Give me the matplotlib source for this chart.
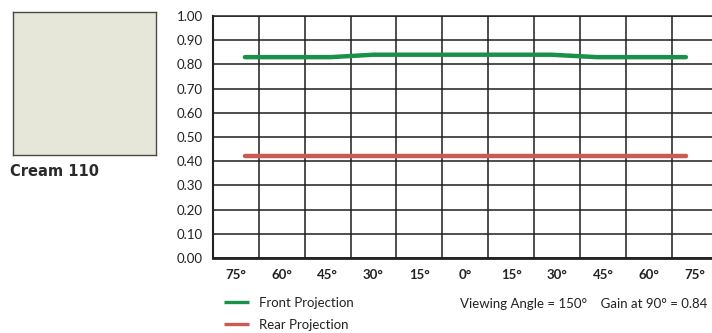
import numpy as np
import matplotlib
matplotlib.use("Agg")
import matplotlib.pyplot as plt

plt.rcParams['font.family'] = ['Lato', 'DejaVu Sans']

# data
angle_labels = ['75°', '60°', '45°', '30°', '15°', '0°', '15°', '30°', '45°', '60°', '75°']
angle_centers = np.arange(-75, 76, 15)
front_x = [-72, -44, -30, 0, 28, 43, 72]
front_y = [0.83, 0.83, 0.84, 0.84, 0.84, 0.83, 0.83]
rear_x = [-72, 0, 72]
rear_y = [0.42, 0.42, 0.42]
sample_name = 'Cream 110'
sample_color = '#e6e7d8'
info_text = 'Viewing Angle = 150°    Gain at 90° = 0.84'

W, H = 712, 333
fig = plt.figure(figsize=(W / 100, H / 100), dpi=100)

# sample swatch
sw = fig.add_axes([13 / W, 1 - 155 / H, 143 / W, 143 / H])
sw.set_facecolor(sample_color)
sw.set_xticks([])
sw.set_yticks([])
for s in sw.spines.values():
    s.set_color('#4a4a44')
    s.set_linewidth(1.0)
fig.text(10 / W, 1 - 172 / H, sample_name, fontsize=10.5, fontweight='bold',
         family='DejaVu Sans', color='#2a2a2a', ha='left', va='center')

# main chart
ax = fig.add_axes([212.7 / W, 1 - 258 / H, (718 - 212.7) / W, (258 - 16) / H])
ax.set_xlim(-82.5, 82.5)
ax.set_ylim(0, 1)

ax.set_xticks(np.arange(-67.5, 68, 15))
ax.set_xticklabels([])
ax.set_xticks(angle_centers, minor=True)
ax.set_xticklabels(angle_labels, minor=True, fontsize=9.5, fontweight='bold', color='#222222')
ax.set_yticks(np.arange(0, 1.01, 0.1))
ax.set_yticklabels([f'{v:.2f}' for v in np.arange(0, 1.01, 0.1)], fontsize=9.5, color='#222222')
ax.tick_params(axis='both', which='both', length=0)
ax.tick_params(axis='x', which='minor', pad=8)
ax.tick_params(axis='y', pad=7)
ax.grid(True, which='major', color='#1e1e1e', linewidth=1.1)
ax.set_axisbelow(True)

ax.spines['right'].set_visible(False)
ax.spines['top'].set_linewidth(1.1)
ax.spines['left'].set_linewidth(1.5)
ax.spines['bottom'].set_linewidth(2.0)
for s in ax.spines.values():
    s.set_color('#222222')

front, = ax.plot(front_x, front_y, color='#1a9148', linewidth=3.2,
                 solid_capstyle='round', solid_joinstyle='round', label='Front Projection')
rear, = ax.plot(rear_x, rear_y, color='#cc5a54', linewidth=3.2,
                solid_capstyle='round', label='Rear Projection')

leg = fig.legend(handles=[front, rear], loc='upper left', bbox_to_anchor=(224 / W, 1 - 297 / H),
                 frameon=False, fontsize=9.5, handlelength=1.9, handletextpad=0.75,
                 labelspacing=0.75, borderpad=0, borderaxespad=0, labelcolor='#222222')
for ln in leg.get_lines():
    ln.set_linewidth(2.4)
    ln.set_solid_capstyle('butt')

fig.text(707 / W, 1 - 304 / H, info_text, fontsize=9.5, color='#222222',
         ha='right', va='center')

fig.savefig('out.png', dpi=100)
